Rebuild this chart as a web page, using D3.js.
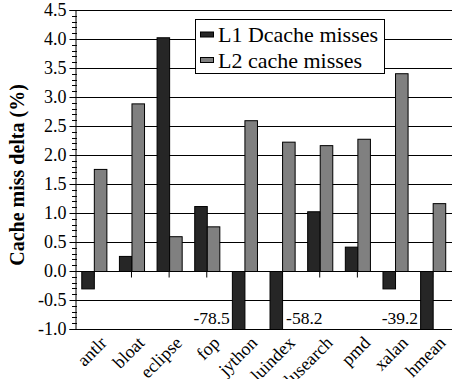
<!DOCTYPE html>
<html>
<head>
<meta charset="utf-8">
<script src="https://cdn.jsdelivr.net/npm/d3@7"></script>
<style>
  html, body { margin: 0; padding: 0; background: #fff; }
  svg { display: block; }
  svg text { font-family: "Liberation Serif", Tinos, serif; }
</style>
</head>
<body>
<svg id="chart" width="452" height="379"></svg>
<script>
// Benchmarks and per-benchmark change in cache miss rate (%)
const categories = ["antlr", "bloat", "eclipse", "fop", "jython", "luindex", "lusearch", "pmd", "xalan", "hmean"];
const l1Dcache = [-0.30, 0.26, 4.03, 1.12, -78.5, -58.2, 1.03, 0.42, -0.30, -39.2];
const l2Cache  = [1.76, 2.89, 0.60, 0.77, 2.60, 2.23, 2.17, 2.28, 3.41, 1.17];
const seriesNames = ["L1 Dcache misses", "L2 cache misses"];
const yTicks = [-1.0, -0.5, 0.0, 0.5, 1.0, 1.5, 2.0, 2.5, 3.0, 3.5, 4.0, 4.5];
const yTitle = "Cache miss delta (%)";

const colors = ["#262626", "#808080"];
const series = [l1Dcache, l2Cache];
const serif = "'Liberation Serif', Tinos, serif";

const svg = d3.select("#chart");
const plot = { left: 75, right: 451.5, top: 10, bottom: 329 };

const x = d3.scaleBand()
  .domain(categories)
  .range([plot.left, plot.right])
  .paddingInner(1 / 3)
  .paddingOuter(1 / 6);

const y = d3.scaleLinear()
  .domain([yTicks[0], yTicks[yTicks.length - 1]])
  .range([plot.bottom, plot.top])
  .clamp(true);

const barW = x.bandwidth() / 2;
const snap = v => Math.round(v) + 0.5;

// Horizontal grid lines at every major tick
svg.append("g")
  .selectAll("line")
  .data(yTicks)
  .join("line")
  .attr("x1", plot.left)
  .attr("x2", 452)
  .attr("y1", d => snap(y(d)))
  .attr("y2", d => snap(y(d)))
  .attr("stroke", "#000")
  .attr("stroke-width", 1);

// Category tick marks hanging below the zero line
svg.append("g")
  .attr("transform", `translate(0,${snap(y(0))})`)
  .call(d3.axisBottom(x).tickSizeInner(6).tickSizeOuter(0).tickFormat(""))
  .call(g => g.select(".domain").remove())
  .call(g => g.selectAll(".tick line").attr("stroke", "#000"));

// Bars: one pair per benchmark
const groups = svg.append("g")
  .selectAll("g")
  .data(categories)
  .join("g")
  .attr("transform", d => `translate(${x(d)},0)`);

series.forEach((vals, si) => {
  groups.append("rect")
    .attr("x", si * barW + 0.5)
    .attr("y", (d, i) => Math.min(y(vals[i]), y(0)) + 0.5)
    .attr("width", barW)
    .attr("height", (d, i) => Math.abs(y(vals[i]) - y(0)))
    .attr("fill", colors[si])
    .attr("stroke", "#000")
    .attr("stroke-width", 1);
});

// Values that run off the bottom of the axis are written next to their bars
const yMin = y.domain()[0];
l1Dcache.forEach((v, i) => {
  if (v >= yMin) return;
  const prevClipped = i > 0 && l1Dcache[i - 1] < yMin;
  const bx = x(categories[i]);
  svg.append("text")
    .attr("x", prevClipped ? bx + barW + 4 : bx - 2)
    .attr("y", 323.5)
    .attr("text-anchor", prevClipped ? "start" : "end")
    .style("font-family", serif)
    .style("font-size", "17.5px")
    .attr("fill", "#000")
    .text(v.toFixed(1));
});

// Y axis with major and minor ticks
const yAxis = svg.append("g")
  .attr("transform", `translate(${plot.left + 0.5},0)`)
  .call(d3.axisLeft(y)
    .tickValues(yTicks)
    .tickSize(6)
    .tickPadding(3)
    .tickFormat(d => d.toFixed(1)));
yAxis.attr("font-family", null).attr("font-size", null);
yAxis.select(".domain").attr("stroke", "#000");
yAxis.selectAll(".tick line").attr("stroke", "#000");
yAxis.selectAll(".tick text")
  .style("font-family", serif)
  .style("font-size", "18px")
  .attr("fill", "#000");

const minor = d3.range(-10, 46).map(k => k / 10).filter(v => Math.abs(v * 2 - Math.round(v * 2)) > 1e-6);
svg.append("g")
  .selectAll("line")
  .data(minor)
  .join("line")
  .attr("x1", plot.left - 3)
  .attr("x2", plot.left + 2)
  .attr("y1", d => snap(y(d)))
  .attr("y2", d => snap(y(d)))
  .attr("stroke", "#000")
  .attr("stroke-width", 1);

// Rotated category labels along the bottom
svg.append("g")
  .selectAll("text")
  .data(categories)
  .join("text")
  .attr("transform", d => `translate(${x(d) + x.bandwidth() / 2 + 14},344) rotate(-45)`)
  .attr("text-anchor", "end")
  .style("font-family", serif)
  .style("font-size", "18px")
  .attr("fill", "#000")
  .text(d => d);

// Y axis title
svg.append("text")
  .attr("transform", `translate(24,175) rotate(-90)`)
  .attr("text-anchor", "middle")
  .style("font-family", serif)
  .style("font-size", "20px")
  .style("font-weight", "bold")
  .attr("fill", "#000")
  .text(yTitle);

// Legend
const legend = svg.append("g");
legend.append("rect")
  .attr("x", 195.5).attr("y", 19.5)
  .attr("width", 189).attr("height", 54)
  .attr("fill", "#fff").attr("stroke", "#000").attr("stroke-width", 1);
seriesNames.forEach((name, i) => {
  const cy = 34.5 + i * 25.5;
  legend.append("rect")
    .attr("x", 200.5).attr("y", cy - 2.5)
    .attr("width", 13).attr("height", 5)
    .attr("fill", colors[i]).attr("stroke", "#000").attr("stroke-width", 1);
  legend.append("text")
    .attr("x", 218).attr("y", 42.3 + i * 25.4)
    .style("font-family", serif)
    .style("font-size", "22px")
    .attr("fill", "#000")
    .text(name);
});
</script>
</body>
</html>
